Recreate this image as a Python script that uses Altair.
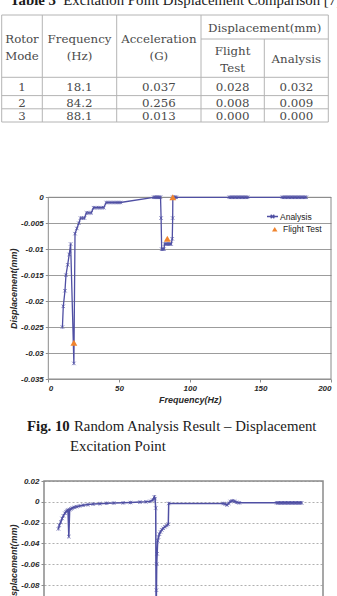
import altair as alt
import pandas as pd

# ---------------- Table 3: excitation point displacement comparison ----------------
table_title_bold = "Table 3"
table_title_rest = "Excitation Point Displacement Comparison [7]"
header_labels = ["Rotor\nMode", "Frequency\n(Hz)", "Acceleration\n(G)", "Flight\nTest", "Analysis"]
group_label = "Displacement(mm)"
modes = ["1", "2", "3"]
mode_freq = [18.1, 84.2, 88.1]
mode_accel = [0.037, 0.256, 0.013]
flight_disp = [0.028, 0.008, 0.000]
analysis_disp = [0.032, 0.009, 0.000]

# ---------------- Fig. 10: random analysis displacement at the excitation point ----------------
an_freq = [10.0, 10.6, 11.8, 12.5, 13.7, 14.8, 15.8, 18.1, 18.9, 20.2, 21.6, 22.8, 24.2,
           25.6, 27.0, 28.6, 30.4, 32.0, 33.8, 35.6, 37.4, 39.2, 41.0, 43.0, 45.0, 47.0,
           49.0, 51.0, 74.6, 75.4, 76.2, 77.0, 77.8, 78.6, 79.4, 79.8, 80.2, 81.0, 81.8,
           82.3, 83.2, 84.2, 85.1, 86.0, 86.9, 87.7, 88.0, 88.1, 88.9, 89.7, 90.5,
           128.0, 129.0, 130.0, 131.0, 132.0, 133.0, 134.0, 135.0, 136.0, 137.0, 138.0,
           139.0, 140.0, 141.0,
           165.5, 166.5, 167.5, 168.5, 169.5, 170.5, 171.5, 172.5, 173.5, 174.5, 175.5,
           176.5, 177.5, 178.5, 179.5, 180.5, 181.5, 182.5]
an_disp = [-0.025, -0.021, -0.018, -0.015, -0.013, -0.011, -0.009, -0.032, -0.007, -0.006,
           -0.005, -0.004, -0.004, -0.004, -0.003, -0.003, -0.003, -0.002, -0.002, -0.002,
           -0.002, -0.002, -0.001, -0.001, -0.001, -0.001, -0.001, -0.001, 0.0, 0.0, 0.0,
           0.0, 0.0, 0.0, 0.0, -0.004, -0.010, -0.010, -0.010, -0.009, -0.009, -0.009,
           -0.009, -0.009, -0.009, -0.008, -0.004, 0.0, 0.0, 0.0, 0.0,
           0.0, 0.0, 0.0, 0.0, 0.0, 0.0, 0.0, 0.0, 0.0, 0.0, 0.0, 0.0, 0.0, 0.0,
           0.0, 0.0, 0.0, 0.0, 0.0, 0.0, 0.0, 0.0, 0.0, 0.0, 0.0, 0.0, 0.0, 0.0, 0.0,
           0.0, 0.0, 0.0]
fig_caption_bold = "Fig. 10"
fig_caption_rest = "Random Analysis Result \u2013 Displacement"
fig_caption_line2 = "Excitation Point"

# ---------------- following figure (top part) ----------------
c2_freq = [10.3, 11.0, 12.0, 13.0, 13.9, 15.0, 15.8, 16.6, 17.2, 17.8, 18.4, 19.3, 20.3,
           21.8, 23.4, 25.5, 28.2, 31.5, 35.3, 40.0, 44.9, 50.0, 56.8, 62.0, 68.8, 73.0,
           76.0, 77.9, 79.1, 79.6, 80.1, 80.4, 80.6, 80.8, 81.1, 81.5, 82.1, 82.7, 83.5,
           84.4, 85.5, 86.7, 88.0, 89.1, 89.4, 128.5, 130.0, 131.2, 132.4, 133.6, 135.0,
           136.6, 138.0, 140.0,
           166.8, 167.8, 168.8, 169.8, 170.8, 171.8, 172.8, 173.8, 174.8, 175.8, 176.8,
           177.8, 178.8, 179.8, 180.8, 181.8, 182.8, 183.8, 184.7]
c2_disp = [-0.026, -0.0225, -0.0195, -0.016, -0.0135, -0.011, -0.0095, -0.0085, -0.008,
           -0.0335, -0.0075, -0.0068, -0.006, -0.0053, -0.0047, -0.004, -0.0033, -0.0027,
           -0.0022, -0.0018, -0.0014, -0.0012, -0.001, -0.0007, -0.0003, 0.0, 0.0004,
           0.0016, 0.0048, 0.003, -0.006, -0.125, -0.085, -0.06, -0.05, -0.0375, -0.034,
           -0.031, -0.029, -0.027, -0.0255, -0.024, -0.0228, -0.0215, -0.0016, -0.0016,
           -0.0022, -0.003, -0.0015, 0.0003, 0.001, 0.0005, -0.0005, -0.001,
           -0.001, -0.001, -0.001, -0.001, -0.001, -0.001, -0.001, -0.001, -0.001, -0.001,
           -0.001, -0.001, -0.001, -0.001, -0.001, -0.001, -0.001, -0.001, -0.001]

# ---------------- page layout and styling ----------------
W, H = 337, 596
SERIF = "Liberation Serif"
TABLE_FONT = "DejaVu Serif"
SANS = "Liberation Sans"
INK = "#1a1a1a"
TABLE_INK = "#4a4a4a"
TABLE_LINE = "#b4b4b4"
BLUE = "#4f4fa3"
ORANGE = "#f0842e"
X_MARK = "M-1,-1L1,1M-1,1L1,-1M0,-1L0,1"

COL_EDGES = [1.7, 42.3, 116.7, 201.0, 264.3, 328.3]
TABLE_TOP, DISP_SPLIT, HEADER_BOTTOM = 15.0, 39.0, 77.3
ROW_BOTTOMS = [95.6, 108.8, 122.0]
LINE_GAP = 16.6
HEAD_DY = 1.2
ROW_DY = 0.3

F1_X = [0, 200]
F1_Y = [-0.035, 0]
F1_XR = [48.3, 331.0]
F1_YR = [379.0, 197.3]
F2_X = [0, 200]
F2_Y = [-0.14, 0.02]
F2_XR = [44.0, 323.0]
F2_YR = [481.0 + 0.16 * 1040, 481.0]


def px_x(field):
    return alt.X(field, type="quantitative", scale=None, axis=None)


def px_y(field):
    return alt.Y(field, type="quantitative", scale=None, axis=None)


# ---- table text ----
centers = [(COL_EDGES[i] + COL_EDGES[i + 1]) / 2 for i in range(5)]
cells = []
for c, label in enumerate(header_labels):
    top = TABLE_TOP if c < 3 else DISP_SPLIT
    mid = (top + HEADER_BOTTOM) / 2
    lines = label.split("\n")
    for k, ln in enumerate(lines):
        cells.append({"x": centers[c], "y": mid + (k - (len(lines) - 1) / 2) * LINE_GAP + HEAD_DY, "t": ln})
cells.append({"x": (COL_EDGES[3] + COL_EDGES[5]) / 2, "y": (TABLE_TOP + DISP_SPLIT) / 2 + HEAD_DY, "t": group_label})
prev = HEADER_BOTTOM
for i in range(len(modes)):
    mid = (prev + ROW_BOTTOMS[i]) / 2 + ROW_DY
    row = [modes[i], f"{mode_freq[i]:.1f}", f"{mode_accel[i]:.3f}",
           f"{flight_disp[i]:.3f}", f"{analysis_disp[i]:.3f}"]
    for c, v in enumerate(row):
        cells.append({"x": centers[c], "y": mid, "t": v})
    prev = ROW_BOTTOMS[i]

table_text = alt.Chart(pd.DataFrame(cells)).mark_text(
    font=TABLE_FONT, fontSize=11.8, color=TABLE_INK, align="center", baseline="middle"
).encode(x=px_x("x"), y=px_y("y"), text="t:N")

# ---- table grid lines ----
rules = []
left, right = COL_EDGES[0], COL_EDGES[-1]
bottom = ROW_BOTTOMS[-1]
for y in [TABLE_TOP, HEADER_BOTTOM] + ROW_BOTTOMS:
    rules.append({"x": left, "x2": right, "y": y, "y2": y})
rules.append({"x": COL_EDGES[3], "x2": right, "y": DISP_SPLIT, "y2": DISP_SPLIT})
for i, xe in enumerate(COL_EDGES):
    rules.append({"x": xe, "x2": xe, "y": DISP_SPLIT if i == 4 else TABLE_TOP, "y2": bottom})
table_rules = alt.Chart(pd.DataFrame(rules)).mark_rule(color=TABLE_LINE, strokeWidth=1).encode(
    x=px_x("x"), x2="x2", y=px_y("y"), y2="y2"
)

# ---- text lines of the page ----
def page_text(text, x, y, size, weight="normal"):
    return alt.Chart(pd.DataFrame({"t": [text]})).mark_text(
        font=SERIF, fontSize=size, fontWeight=weight, color=INK, align="left", baseline="alphabetic"
    ).encode(x=alt.value(x), y=alt.value(y), text="t:N")


title_bold = page_text(table_title_bold, 10, 5.0, 14.8, "bold")
title_rest = page_text(table_title_rest, 63.3, 5.0, 14.8)
cap_bold = page_text(fig_caption_bold, 27, 431, 14.8, "bold")
cap_rest = page_text(fig_caption_rest, 74, 431, 14.8)
cap_line2 = page_text(fig_caption_line2, 70, 450.5, 14.8)

axis_style = dict(
    labelFont=SANS, labelFontSize=8, labelFontStyle="italic", labelFontWeight="bold",
    labelColor="#2a2a2a", titleFont=SANS, titleFontSize=9, titleFontStyle="italic",
    titleFontWeight="bold", titleColor="#2a2a2a", tickColor="#8c8c8c", tickSize=3,
    domain=False,
)

# ---------------- Fig. 10 ----------------
x1 = alt.Scale(domain=F1_X, range=F1_XR, nice=False, zero=False)
y1 = alt.Scale(domain=F1_Y, range=F1_YR, nice=False, zero=False)
x1_axis = alt.Axis(orient="bottom", offset=F1_YR[0] - H, values=[0, 50, 100, 150, 200],
                   title="Frequency(Hz)", grid=False, labelPadding=2, titlePadding=3,
                   **axis_style)
y1_axis = alt.Axis(orient="left", offset=-F1_XR[0],
                   values=[0, -0.005, -0.01, -0.015, -0.02, -0.025, -0.03, -0.035],
                   labelExpr="'' + datum.value", title="Displacement(mm)", grid=True,
                   gridColor="#9c9c9c", gridWidth=1, labelPadding=2, titlePadding=2,
                   **axis_style)

an_df = pd.DataFrame({"freq": an_freq, "disp": an_disp, "series": "Analysis"})
ft_df = pd.DataFrame({"freq": mode_freq, "disp": [-d for d in flight_disp], "series": "Flight Test"})
frame1_df = pd.DataFrame({"x0": [F1_X[0]], "x1": [F1_X[1]], "y0": [F1_Y[0]], "y1": [F1_Y[1]]})

frame1 = alt.Chart(frame1_df).mark_rect(fillOpacity=0, stroke="#8a8a8a", strokeWidth=1).encode(
    x=alt.X("x0:Q", scale=x1, axis=x1_axis), x2="x1",
    y=alt.Y("y0:Q", scale=y1, axis=y1_axis), y2="y1",
)
an_line = alt.Chart(an_df).mark_line(strokeWidth=1.3).encode(
    x=alt.X("freq:Q", scale=x1, axis=x1_axis),
    y=alt.Y("disp:Q", scale=y1, axis=y1_axis),
    stroke=alt.Stroke("series:N", scale=alt.Scale(domain=["Analysis"], range=[BLUE]),
                      legend=alt.Legend(title=None, orient="none", legendX=266, legendY=210,
                                        symbolType="M-1,0L1,0M-0.33,-0.33L0.33,0.33M-0.33,0.33L0.33,-0.33",
                                        symbolSize=121, symbolStrokeWidth=1.3,
                                        labelFont=SANS, labelFontSize=8.5, labelColor="#222",
                                        labelOffset=1, padding=0)),
)
an_pts = alt.Chart(an_df).mark_point(shape=X_MARK, size=12, strokeWidth=0.8, color=BLUE,
                                     filled=False, opacity=0.85).encode(
    x=alt.X("freq:Q", scale=x1, axis=x1_axis),
    y=alt.Y("disp:Q", scale=y1, axis=y1_axis),
)
ft_pts = alt.Chart(ft_df).mark_point(shape="triangle-up", size=48, filled=True, opacity=1).encode(
    x=alt.X("freq:Q", scale=x1, axis=x1_axis),
    y=alt.Y("disp:Q", scale=y1, axis=y1_axis),
    fill=alt.Fill("series:N", scale=alt.Scale(domain=["Flight Test"], range=[ORANGE]),
                  legend=alt.Legend(title=None, orient="none", legendX=270.5, legendY=225,
                                    symbolType="triangle-up", symbolSize=30,
                                    labelFont=SANS, labelFontSize=8.5, labelColor="#222",
                                    labelOffset=4, padding=0)),
)
fig1 = alt.layer(frame1, an_line, an_pts, ft_pts)

# ---------------- following figure ----------------
x2 = alt.Scale(domain=F2_X, range=F2_XR, nice=False, zero=False)
y2 = alt.Scale(domain=F2_Y, range=F2_YR, nice=False, zero=False)
y2_axis = alt.Axis(orient="left", offset=-F2_XR[0],
                   values=[0.02, 0, -0.02, -0.04, -0.06, -0.08, -0.1, -0.12, -0.14],
                   labelExpr="'' + datum.value", title="Displacement(mm)", grid=True,
                   gridColor="#b0b0b0", gridDash=[2, 2], gridWidth=1, labelPadding=2,
                   titlePadding=2, **axis_style)
c2_df = pd.DataFrame({"freq": c2_freq, "disp": c2_disp})
frame2_df = pd.DataFrame({"x0": [F2_X[0]], "x1": [F2_X[1]], "y0": [F2_Y[0]], "y1": [F2_Y[1]]})

frame2 = alt.Chart(frame2_df).mark_rect(fillOpacity=0, stroke="#8a8a8a", strokeWidth=1.5).encode(
    x=alt.X("x0:Q", scale=x2, axis=None), x2="x1",
    y=alt.Y("y0:Q", scale=y2, axis=y2_axis), y2="y1",
)
c2_line = alt.Chart(c2_df).mark_line(strokeWidth=1.5, color=BLUE).encode(
    x=alt.X("freq:Q", scale=x2, axis=None),
    y=alt.Y("disp:Q", scale=y2, axis=y2_axis),
)
c2_pts = alt.Chart(c2_df).mark_point(shape=X_MARK, size=12, strokeWidth=0.8, color=BLUE,
                                     filled=False, opacity=0.85).encode(
    x=alt.X("freq:Q", scale=x2, axis=None),
    y=alt.Y("disp:Q", scale=y2, axis=y2_axis),
)
fig2 = alt.layer(frame2, c2_line, c2_pts)

chart = alt.layer(
    table_rules, table_text, title_bold, title_rest, fig1, cap_bold, cap_rest, cap_line2, fig2
).resolve_scale(
    x="independent", y="independent"
).properties(
    width=W, height=H, padding=0, background="white",
    autosize=alt.AutoSizeParams(type="none"),
).configure_view(stroke=None)

chart.save("out.html", embed_options={"renderer": "svg", "actions": False})
